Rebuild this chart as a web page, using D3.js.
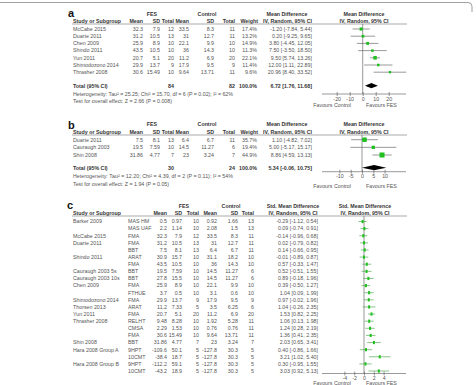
<!DOCTYPE html>
<html><head><meta charset="utf-8">
<script src="https://cdn.jsdelivr.net/npm/d3@7"></script>
<style>body{margin:0;background:#fff}</style>
</head><body><svg id="chart" width="476" height="385"></svg>
<script>
// ---------- Panel a data ----------
const studiesA = ["McCabe 2015","Duarte 2011","Chen 2009","Shindo 2011","Yun 2011","Shimodozono 2014","Thrasher 2008"];
const fesMeanA = [32.3,31.2,25.9,43.5,20.7,29.9,30.6];
const fesSdA   = [7.9,10.5,8.9,10.5,5.1,13.7,15.49];
const fesNA    = [12,13,10,10,20,9,10];
const ctlMeanA = [33.5,31,22.1,36,11.2,17.9,9.64];
const ctlSdA   = [8.3,12.7,9.9,14.3,6.9,9.5,13.71];
const ctlNA    = [11,11,10,10,20,9,11];
const weightA  = [17.4,13.2,14.9,11.3,22.1,11.4,9.6];
const mdA      = [-1.20,0.20,3.80,7.50,9.50,12.00,20.96];
const loA      = [-7.84,-9.25,-4.45,-3.50,5.74,1.11,8.40];
const hiA      = [5.44,9.65,12.05,18.50,13.26,22.89,33.52];
const totalA   = {nF:84,nC:82,md:6.72,lo:1.76,hi:11.68};
const hetA = "Heterogeneity: Tau² = 25.25; Chi² = 15.70, df = 6 (P = 0.02); I² = 62%";
const testA = "Test for overall effect: Z = 2.66 (P = 0.008)";
const ticksA = [-20,-10,0,10,20];

// ---------- Panel b data ----------
const studiesB = ["Duarte 2011","Cauraugh 2003","Shin 2008"];
const fesMeanB = [7.5,19.5,31.86];
const fesSdB   = [8.1,7.59,4.77];
const fesNB    = [13,10,7];
const ctlMeanB = [6.4,14.5,23];
const ctlSdB   = [6.7,11.27,3.24];
const ctlNB    = [11,6,7];
const weightB  = [35.7,19.4,44.9];
const mdB      = [1.10,5.00,8.86];
const loB      = [-4.82,-5.17,4.59];
const hiB      = [7.02,15.17,13.13];
const totalB   = {nF:30,nC:24,md:5.34,lo:-0.06,hi:10.75};
const hetB = "Heterogeneity: Tau² = 12.20; Chi² = 4.39, df = 2 (P = 0.11); I² = 54%";
const testB = "Test for overall effect: Z = 1.94 (P = 0.05)";
const ticksB = [-10,-5,0,5,10];

// ---------- Panel c data ----------
const studiesC = ["Barker 2009","","McCabe 2015","Duarte 2011","","Shindo 2011","","Cauraugh 2003 5s","Cauraugh 2003 10s","Chen 2009","","Shimodozono 2014","Thorsen 2013","Yun 2011","Thrasher 2008","","","Shin 2008","Hara 2008 Group A","","Hara 2008 Group B",""];
const outcomesC = ["MAS HM","MAS UAF","FMA","FMA","BBT","ARAT","FMA","BBT","BBT","FMA","FTHUE","FMA","ARAT","FMA","RELHT","CMSA","FMA","BBT","9HPT","10CMT","9HPT","10CMT"];
const fesMeanC = [0.5,2.2,32.3,31.2,7.5,30.9,43.5,19.5,27.8,25.9,3.7,29.9,11.2,20.7,9.48,2.29,30.6,31.86,-109.6,-38.4,-112.2,-43.2];
const fesSdC   = [0.97,1.14,7.9,10.5,8.1,15.7,10.5,7.59,15.5,8.9,0.5,13.7,7.33,5.1,8.28,1.53,15.49,4.77,50.1,18.7,59.1,18.9];
const fesNC    = [10,10,12,13,13,10,10,10,10,10,10,9,5,20,10,10,10,7,5,5,5,5];
const ctlMeanC = [0.92,2.08,33.5,31,6.4,31.1,36,14.5,14.5,22.1,3.1,17.9,3.5,11.2,1.92,0.76,9.64,23,-127.8,-127.8,-127.8,-127.8];
const ctlSdC   = [1.66,1.5,8.3,12.7,6.7,18.2,14.3,11.27,11.27,9.9,0.6,9.5,6.25,6.9,5.28,0.76,13.71,3.24,30.3,30.3,30.3,30.3];
const ctlNC    = [13,13,11,11,11,10,10,6,6,10,10,9,6,20,11,11,11,7,5,5,5,5];
const smdC     = [-0.29,0.09,-0.14,0.02,0.14,-0.01,0.57,0.52,0.89,0.39,1.04,0.97,1.04,1.53,1.06,1.24,1.36,2.03,0.40,3.21,0.30,3.03];
const loC      = [-1.12,-0.74,-0.96,-0.79,-0.66,-0.89,-0.33,-0.51,-0.18,-0.50,0.09,-0.02,-0.26,0.82,0.13,0.28,0.41,0.65,-0.86,1.02,-0.95,0.92];
const hiC      = [0.54,0.91,0.68,0.82,0.95,0.87,1.47,1.55,1.96,1.27,1.99,1.96,2.35,2.25,1.98,2.19,2.35,3.41,1.66,5.40,1.55,5.13];
const ticksC = [-4,-2,0,2,4];

// ---------- drawing ----------
const svg = d3.select("#chart");
const FONT = "'Liberation Sans', Arial, sans-serif";
const FS = 5.3;
const DATA_COL = "#555", HEAD_COL = "#333", GREEN = "#1fbf1f";

function t(x, y, s, opt = {}) {
  const el = svg.append("text").attr("x", x).attr("y", y).attr("dy", "0.35em")
    .attr("font-family", FONT).attr("font-size", opt.size || FS)
    .attr("font-weight", opt.bold ? "bold" : "normal")
    .attr("fill", opt.color || (opt.bold ? HEAD_COL : DATA_COL))
    .attr("text-anchor", opt.anchor || "start").text(s);
  if (opt.len) el.attr("textLength", opt.len).attr("lengthAdjust", "spacing");
  return el;
}
function line(x1, y1, x2, y2, col, w) {
  svg.append("line").attr("x1", x1).attr("y1", y1).attr("x2", x2).attr("y2", y2)
    .attr("stroke", col).attr("stroke-width", w);
}
const f2 = v => v.toFixed(2);
const ci = (m, l, h) => `${f2(m)} [${f2(l)}, ${f2(h)}]`;

// frame top
svg.append("path").attr("d", "M0,2.5 H468 Q472,2.5 472,6.5 V12").attr("fill", "none")
  .attr("stroke", "#888").attr("stroke-width", 0.8);

function axis(x, ticks, y, labY) {
  line(322, y, 406, y, "#555", 0.6);
  const g = svg.append("g").attr("transform", `translate(0,${y})`)
    .call(d3.axisBottom(x).tickValues(ticks).tickSizeInner(2).tickSizeOuter(0).tickFormat(d => d));
  g.select(".domain").remove();
  g.selectAll(".tick line").attr("y1", -2).attr("y2", 2).attr("stroke", "#555").attr("stroke-width", 0.6);
  g.selectAll(".tick text").attr("y", labY).attr("dy", "0.35em").attr("font-size", FS)
    .attr("font-family", FONT).attr("fill", DATA_COL);
}
function favours(y) {
  t(351, y, "Favours Control", {anchor: "end"});
  t(366, y, "Favours FES");
}
function diamond(x, tot, y) {
  const pts = [[x(tot.lo), y], [x(tot.md), y - 2.6], [x(tot.hi), y], [x(tot.md), y + 2.6]];
  svg.append("path").attr("d", "M" + pts.map(p => p.join(",")).join("L") + "Z").attr("fill", "#000");
}

// column right edges for panels a and b
const colsAB = [143, 160, 174, 189, 214, 235, 257];

function mdPanel(p) {
  t(68, p.labelY, p.label, {bold: true, size: 11, color: "#111"}).attr("dy", 0);
  t(152, p.h1, "FES", {bold: true, anchor: "middle"});
  t(207, p.h1, "Control", {bold: true, anchor: "middle"});
  t(287, p.h1, "Mean Difference", {bold: true, anchor: "middle"});
  t(364, p.h1, "Mean Difference", {bold: true, anchor: "middle"});
  t(73, p.h2, "Study or Subgroup", {bold: true});
  ["Mean","SD","Total","Mean","SD","Total","Weight"]
    .forEach((s, k) => t(colsAB[k] + (k === 6 ? 1 : 0), p.h2, s, {bold: true, anchor: "end"}));
  t(287.5, p.h2, "IV, Random, 95% CI", {bold: true, anchor: "middle"});
  t(364, p.h2, "IV, Random, 95% CI", {bold: true, anchor: "middle"});
  line(72, p.ul, 407, p.ul, "#888", 0.7);
  const x = p.x;
  line(x(0), p.ul, x(0), p.axisY, "#555", 0.6);
  p.studies.forEach((s, i) => {
    const y = p.rowY(i);
    t(73, y, s);
    [p.fm[i], p.fs[i], p.fn[i], p.cm[i], p.cs[i], p.cn[i]]
      .forEach((v, k) => t(colsAB[k], y, String(v), {anchor: "end"}));
    t(colsAB[6], y, p.w[i].toFixed(1) + "%", {anchor: "end"});
    t(312, y, ci(p.md[i], p.lo[i], p.hi[i]), {anchor: "end"});
    line(x(p.lo[i]), y, x(p.hi[i]), y, "#555", 0.6);
    const sz = 0.75 * Math.sqrt(p.w[i]);
    svg.append("rect").attr("x", x(p.md[i]) - sz / 2).attr("y", y - sz / 2)
      .attr("width", sz).attr("height", sz).attr("fill", GREEN);
  });
  const ty = p.totY;
  t(73, ty, "Total (95% CI)", {bold: true});
  t(colsAB[2], ty, String(p.tot.nF), {bold: true, anchor: "end"});
  t(colsAB[5], ty, String(p.tot.nC), {bold: true, anchor: "end"});
  t(colsAB[6], ty, "100.0%", {bold: true, anchor: "end"});
  t(312, ty, ci(p.tot.md, p.tot.lo, p.tot.hi), {bold: true, anchor: "end"});
  diamond(x, p.tot, ty);
  t(73, p.hetY, p.het, {len: 160});
  t(73, p.testY, p.test);
  axis(x, p.ticks, p.axisY, p.tickOff);
  favours(p.favY);
}

const xA = d3.scaleLinear().domain([-20, 20]).range([336.7, 388.7]);
mdPanel({label: "a", labelY: 16.5, h1: 14, h2: 21, ul: 24, rowY: i => 29 + i * 7.2,
  studies: studiesA, fm: fesMeanA, fs: fesSdA, fn: fesNA, cm: ctlMeanA, cs: ctlSdA, cn: ctlNA,
  w: weightA, md: mdA, lo: loA, hi: hiA, tot: totalA, totY: 85.7, hetY: 94, testY: 100.7,
  het: hetA, test: testA, x: xA, ticks: ticksA, axisY: 94, tickOff: 5, favY: 105.5});

const xB = d3.scaleLinear().domain([-10, 10]).range([339.4, 384.6]);
mdPanel({label: "b", labelY: 128.5, h1: 124.3, h2: 132, ul: 135, rowY: i => 139.7 + i * 7.65,
  studies: studiesB, fm: fesMeanB, fs: fesSdB, fn: fesNB, cm: ctlMeanB, cs: ctlSdB, cn: ctlNB,
  w: weightB, md: mdB, lo: loB, hi: hiB, tot: totalB, totY: 167.7, hetY: 176, testY: 184.5,
  het: hetB, test: testB, x: xB, ticks: ticksB, axisY: 171.7, tickOff: 4.5, favY: 186});

// ===== Panel c =====
(function () {
  t(67, 208.5, "c", {bold: true, size: 11, color: "#111"}).attr("dy", 0);
  t(184, 206, "FES", {bold: true, anchor: "middle"});
  t(231, 206, "Control", {bold: true, anchor: "middle"});
  t(293, 206, "Std. Mean Difference", {bold: true, anchor: "middle"});
  t(365, 206, "Std. Mean Difference", {bold: true, anchor: "middle"});
  const hy = 212.7;
  t(73, hy, "Study or Subgroup", {bold: true});
  const cols = [167, 182, 199, 217, 238, 254];
  ["Mean","SD","Total","Mean","SD","Total"].forEach((s, k) => t(cols[k], hy, s, {bold: true, anchor: "end"}));
  t(293, hy, "IV, Random, 95% CI", {bold: true, anchor: "middle"});
  t(365, hy, "IV, Random, 95% CI", {bold: true, anchor: "middle"});
  line(72, 216, 407, 216, "#888", 0.7);
  const x = d3.scaleLinear().domain([-4, 4]).range([344.4, 383.6]);
  const axisY = 373.5;
  line(x(0), 216, x(0), axisY, "#555", 0.6);
  studiesC.forEach((s, i) => {
    const y = 221.5 + i * 7.12;
    if (s) t(73, y, s);
    t(128, y, outcomesC[i]);
    [fesMeanC[i], fesSdC[i], fesNC[i], ctlMeanC[i], ctlSdC[i], ctlNC[i]]
      .forEach((v, k) => t(cols[k], y, String(v), {anchor: "end"}));
    t(318, y, ci(smdC[i], loC[i], hiC[i]), {anchor: "end"});
    line(x(loC[i]), y, x(hiC[i]), y, "#3a9a3a", 0.6);
    svg.append("rect").attr("x", x(smdC[i]) - 1).attr("y", y - 1.6)
      .attr("width", 2).attr("height", 3.2).attr("fill", GREEN);
  });
  axis(x, ticksC, axisY, 4.2);
  favours(383.2);
})();
</script></body></html>
